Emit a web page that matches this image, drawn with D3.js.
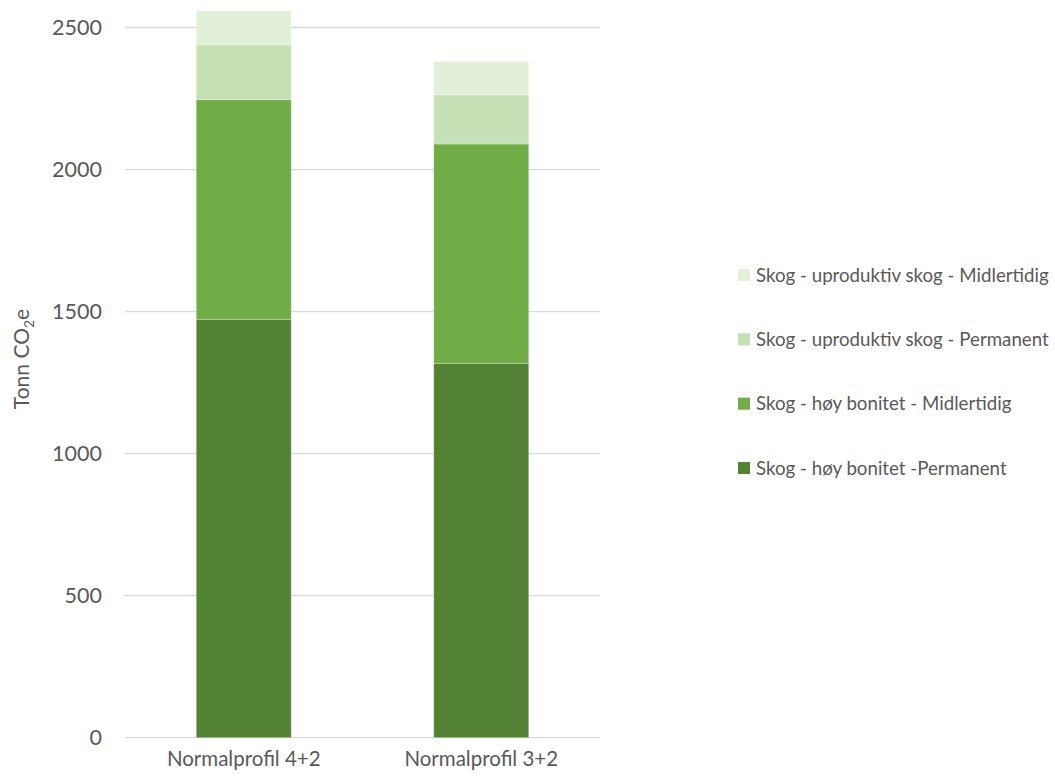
<!DOCTYPE html>
<html>
<head>
<meta charset="utf-8">
<script src="https://cdn.jsdelivr.net/npm/d3@7"></script>
<style>
  body { margin: 0; background: #fff; }
  text { font-family: Lato, "Open Sans", sans-serif; fill: #595959; }
</style>
</head>
<body>
<div id="chart"></div>
<script>
// data
const categories = ["Normalprofil 4+2", "Normalprofil 3+2"];
const seriesNames = [
  "Skog - høy bonitet -Permanent",
  "Skog - høy bonitet - Midlertidig",
  "Skog - uproduktiv skog - Permanent",
  "Skog - uproduktiv skog - Midlertidig"
];
const hoyPermanent = [1473, 1318];
const hoyMidlertidig = [773, 772];
const uprodPermanent = [193, 173];
const uprodMidlertidig = [119, 117];
const yTicks = [0, 500, 1000, 1500, 2000, 2500];
const colors = ["#548235", "#70ad47", "#c5e0b4", "#e2f0d9"];

const dims = { width: 1055, height: 780 };
const margin = { top: 27.5, left: 125, right: 455, bottom: 42.3 };
const plotW = dims.width - margin.left - margin.right;
const plotH = dims.height - margin.top - margin.bottom;

const svg = d3.select("#chart").append("svg")
  .attr("width", dims.width)
  .attr("height", dims.height);

const graph = svg.append("g")
  .attr("transform", `translate(${margin.left}, ${margin.top})`);

const yScale = d3.scaleLinear().domain([0, 2500]).range([plotH, 0]);
const xScale = d3.scaleBand()
  .domain(categories)
  .range([0, plotW])
  .paddingInner(0.6)
  .paddingOuter(0.3);

// gridlines
graph.append("g")
  .selectAll("line")
  .data(yTicks)
  .join("line")
  .attr("x1", 0)
  .attr("x2", plotW)
  .attr("y1", d => yScale(d))
  .attr("y2", d => yScale(d))
  .attr("stroke", "#d9d9d9")
  .attr("stroke-width", 1.3);

// y axis labels
const yAxis = d3.axisLeft(yScale)
  .tickValues(yTicks)
  .tickFormat(d3.format("d"))
  .tickSize(0)
  .tickPadding(23);
const yAxisGroup = graph.append("g").call(yAxis);
yAxisGroup.select(".domain").remove();
yAxisGroup.selectAll("text")
  .style("font-size", "21.5px")
  .attr("fill", "#595959");

// x axis labels
const xAxis = d3.axisBottom(xScale).tickSize(0).tickPadding(14);
const xAxisGroup = graph.append("g")
  .attr("transform", `translate(0, ${plotH})`)
  .call(xAxis);
xAxisGroup.select(".domain").remove();
xAxisGroup.selectAll("text")
  .style("font-size", "20.5px")
  .attr("fill", "#595959");

// stacked bars
const rows = categories.map((c, i) => ({
  cat: c,
  s0: hoyPermanent[i],
  s1: hoyMidlertidig[i],
  s2: uprodPermanent[i],
  s3: uprodMidlertidig[i]
}));
const stack = d3.stack().keys(["s0", "s1", "s2", "s3"]);
const layers = stack(rows);

graph.append("g")
  .selectAll("g")
  .data(layers)
  .join("g")
  .attr("fill", (d, i) => colors[i])
  .selectAll("rect")
  .data(d => d)
  .join("rect")
  .attr("x", d => xScale(d.data.cat))
  .attr("width", xScale.bandwidth())
  .attr("y", d => yScale(d[1]))
  .attr("height", d => yScale(d[0]) - yScale(d[1]))
  .attr("stroke", "#ffffff")
  .attr("stroke-opacity", 0.35)
  .attr("stroke-width", 0.8);

// y axis title
const yTitle = svg.append("text")
  .attr("transform", "translate(29, 359) rotate(-90)")
  .attr("text-anchor", "middle")
  .style("font-size", "21px");
yTitle.append("tspan").text("Tonn CO");
yTitle.append("tspan").attr("dy", 5).style("font-size", "14px").text("2");
yTitle.append("tspan").attr("dy", -5).text("e");

// legend (top to bottom: reversed order)
const legendY = d3.scalePoint()
  .domain(seriesNames.slice().reverse())
  .range([275, 468]);

const legend = svg.append("g").attr("transform", "translate(738, 0)");
const items = legend.selectAll("g")
  .data(seriesNames)
  .join("g")
  .attr("transform", d => `translate(0, ${legendY(d)})`);
items.append("rect")
  .attr("x", 0)
  .attr("y", -6)
  .attr("width", 12)
  .attr("height", 12)
  .attr("fill", (d, i) => colors[i]);
items.append("text")
  .attr("x", 18)
  .attr("dy", "0.35em")
  .style("font-size", "18.7px")
  .text(d => d);
</script>
</body>
</html>
